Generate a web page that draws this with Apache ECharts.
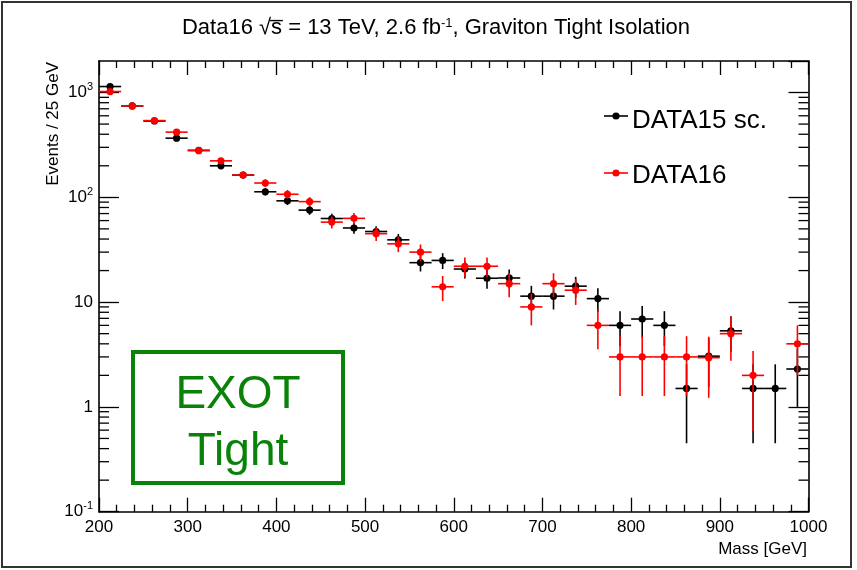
<!DOCTYPE html>
<html>
<head>
<meta charset="utf-8">
<script src="https://cdn.jsdelivr.net/npm/echarts@6/dist/echarts.min.js"></script>
<style>html,body{margin:0;padding:0;background:#fff}#c{width:857px;height:570px}</style>
</head>
<body>
<div id="c"></div>
<script>
// ---- data ----
const massCenters = [212.5,237.5,262.5,287.5,312.5,337.5,362.5,387.5,412.5,437.5,462.5,487.5,512.5,537.5,562.5,587.5,
                     612.5,637.5,662.5,687.5,712.5,737.5,762.5,787.5,812.5,837.5,862.5,887.5,912.5,937.5,962.5,987.5];
const binHalfWidth = 12.5;
const data15 = [1141,745,535,367,281,200,163,113,92.6,75.5,62.8,51,47.2,39.3,23.8,25.0,
                20.7,16.9,17.0,11.4,11.4,14.2,10.8,6.0,6.9,6.0,1.5,3.05,5.32,1.5,1.5,2.3];
const data15Err = [29,23,20,16,14,12,11,9,8.2,7.4,6.8,6.1,5.9,5.4,4.2,4.3,
                   3.9,3.5,3.5,2.9,2.9,3.2,2.8,2.2,2.3,2.2,1.05,1.5,2.0,1.05,1.05,1.3];
const data16 = [1022,747,540,419,279,223,163,137,107,91,58,63,45,36,30,14,
                22,22,15,9,15,13,6,3,3,3,3,2.95,5,2,null,4];
const data16Err = [32,27.3,23.2,20.5,16.7,14.9,12.8,11.7,10.3,9.5,7.6,7.9,6.7,6.0,5.5,3.74,
                   4.7,4.7,3.87,3.0,3.87,3.6,2.45,1.73,1.73,1.73,1.73,1.73,2.24,1.41,null,2.0];
const xTickLabels = [200,300,400,500,600,700,800,900,1000];
const yDecades = [0.1,1,10,100,1000];
const seriesNames = ['DATA15 sc.','DATA16'];

const FONT = '"Liberation Sans", Arial, Helvetica, sans-serif';

// minor tick positions for log axis (2..9 x decade)
const yMinorTicks = [];
yDecades.forEach(d => { for (let k = 2; k <= 9; k++) { const v = d * k; if (v < 2000) yMinorTicks.push(v); } });

function buildPoints(vals, errs) {
  const out = [];
  for (let i = 0; i < massCenters.length; i++) {
    if (vals[i] == null) continue;
    out.push([massCenters[i], vals[i], errs[i]]);
  }
  return out;
}

function errRenderer(color) {
  return function (params, api) {
    const x = api.value(0), y = api.value(1), e = api.value(2);
    const c = api.coord([x, y]);
    const l = api.coord([x - binHalfWidth, y]);
    const r = api.coord([x + binHalfWidth, y]);
    const t = api.coord([x, y + e]);
    const b = api.coord([x, Math.max(y - e, 0.1001)]);
    const st = { stroke: color, lineWidth: 1.6 };
    return {
      type: 'group',
      children: [
        { type: 'line', shape: { x1: l[0], y1: l[1], x2: r[0], y2: r[1] }, style: st },
        { type: 'line', shape: { x1: t[0], y1: t[1], x2: b[0], y2: b[1] }, style: st },
        { type: 'circle', shape: { cx: c[0], cy: c[1], r: 3.6 }, style: { fill: color } }
      ]
    };
  };
}

function minorTickRenderer(params, api) {
  const v = api.value(0);
  const p = api.coord([200, v]);
  const q = api.coord([1000, v]);
  const st = { stroke: '#000', lineWidth: 1.3 };
  return {
    type: 'group',
    children: [
      { type: 'line', shape: { x1: p[0], y1: p[1], x2: p[0] + 10, y2: p[1] }, style: st },
      { type: 'line', shape: { x1: q[0] - 10, y1: q[1], x2: q[0], y2: q[1] }, style: st }
    ]
  };
}

const axisLineStyle = { color: '#000', width: 1.6 };
const chart = echarts.init(document.getElementById('c'), null, { renderer: 'canvas' });

const xCommon = {
  type: 'value', min: 200, max: 1000, interval: 100,
  axisLine: { show: true, onZero: false, lineStyle: axisLineStyle },
  axisTick: { show: true, inside: true, length: 14, lineStyle: { color: '#000', width: 1.3 } },
  minorTick: { show: true, splitNumber: 5, length: 7, lineStyle: { color: '#000', width: 1.3 } },
  splitLine: { show: false }
};
const yCommon = {
  type: 'log', logBase: 10, min: 0.1, max: 2000, interval: 1,
  axisLine: { show: true, onZero: false, lineStyle: axisLineStyle },
  axisTick: { show: true, inside: true, length: 20, lineStyle: { color: '#000', width: 1.3 } },
  splitLine: { show: false }
};

chart.setOption({
  animation: false,
  backgroundColor: '#fff',
  grid: { left: 99, right: 48.5, top: 61, bottom: 58.3, containLabel: false },
  xAxis: [
    Object.assign({}, xCommon, {
      position: 'bottom',
      axisLabel: {
        show: true, margin: 7, fontSize: 17, fontFamily: FONT, color: '#000',
        formatter: v => (xTickLabels.indexOf(Math.round(v)) >= 0 ? String(Math.round(v)) : '')
      }
    }),
    Object.assign({}, xCommon, { position: 'top', axisLabel: { show: false } })
  ],
  yAxis: [
    Object.assign({}, yCommon, {
      position: 'left',
      axisLabel: {
        show: true, margin: 6, fontFamily: FONT, color: '#000', fontSize: 17,
        showMaxLabel: false,
        formatter: function (v) {
          const lg = Math.log10(v), k = Math.round(lg);
          if (Math.abs(lg - k) > 1e-6 || k > 3) return '';
          if (k === 0) return '1';
          if (k === 1) return '10';
          return '{b|10}{s|' + k + '}';
        },
        rich: {
          b: { fontSize: 17, fontFamily: FONT, color: '#000', lineHeight: 22, verticalAlign: 'middle' },
          s: { fontSize: 11, fontFamily: FONT, color: '#000', lineHeight: 11, verticalAlign: 'top' }
        }
      }
    }),
    Object.assign({}, yCommon, { position: 'right', axisLabel: { show: false } })
  ],
  series: [
    {
      name: 'minorTicks', type: 'custom', xAxisIndex: 0, yAxisIndex: 0, silent: true,
      data: yMinorTicks.map(v => [v]),
      encode: { y: 0 },
      renderItem: minorTickRenderer, z: 1
    },
    {
      name: seriesNames[0], type: 'custom', xAxisIndex: 0, yAxisIndex: 0,
      data: buildPoints(data15, data15Err),
      encode: { x: 0, y: 1 },
      renderItem: errRenderer('#000000'), z: 2
    },
    {
      name: seriesNames[1], type: 'custom', xAxisIndex: 0, yAxisIndex: 0,
      data: buildPoints(data16, data16Err),
      encode: { x: 0, y: 1 },
      renderItem: errRenderer('#ff0000'), z: 3
    }
  ],
  graphic: [
    // canvas border
    { type: 'rect', shape: { x: 2, y: 2, width: 849, height: 565 }, style: { fill: 'none', stroke: '#333', lineWidth: 2 }, z: 0 },
    // title
    {
      type: 'text', x: 436, y: 28,
      style: {
        text: 'Data16 √s\u0305 = 13 TeV, 2.6 fb{s|-1}, Graviton Tight Isolation',
        fontSize: 22, fontFamily: FONT, fill: '#000', align: 'center', verticalAlign: 'middle',
        rich: { s: { fontSize: 13, fontFamily: FONT, fill: '#000', verticalAlign: 'top', lineHeight: 13 } }
      }
    },
    // axis titles
    { type: 'text', x: 807, y: 549, style: { text: 'Mass [GeV]', fontSize: 17, fontFamily: FONT, fill: '#000', align: 'right', verticalAlign: 'middle' } },
    { type: 'text', x: 53, y: 62, rotation: Math.PI / 2, style: { text: 'Events / 25 GeV', fontSize: 17, fontFamily: FONT, fill: '#000', align: 'right', verticalAlign: 'middle' } },
    // legend
    { type: 'line', shape: { x1: 604, y1: 116, x2: 628, y2: 116 }, style: { stroke: '#000', lineWidth: 1.6 } },
    { type: 'circle', shape: { cx: 616, cy: 116, r: 3.6 }, style: { fill: '#000' } },
    { type: 'text', x: 632, y: 121, style: { text: seriesNames[0], fontSize: 26, fontFamily: FONT, fill: '#000', align: 'left', verticalAlign: 'middle' } },
    { type: 'line', shape: { x1: 604, y1: 173, x2: 628, y2: 173 }, style: { stroke: '#ff0000', lineWidth: 1.6 } },
    { type: 'circle', shape: { cx: 616, cy: 173, r: 3.6 }, style: { fill: '#ff0000' } },
    { type: 'text', x: 632, y: 176, style: { text: seriesNames[1], fontSize: 26, fontFamily: FONT, fill: '#000', align: 'left', verticalAlign: 'middle' } },
    // EXOT Tight box
    { type: 'rect', shape: { x: 133, y: 352, width: 210, height: 131 }, style: { fill: 'none', stroke: '#0a820a', lineWidth: 4 } },
    { type: 'text', x: 238, y: 395, style: { text: 'EXOT', fontSize: 46, fontFamily: FONT, fill: '#0a820a', align: 'center', verticalAlign: 'middle' } },
    { type: 'text', x: 238, y: 452, style: { text: 'Tight', fontSize: 46, fontFamily: FONT, fill: '#0a820a', align: 'center', verticalAlign: 'middle' } }
  ]
});
</script>
</body>
</html>
